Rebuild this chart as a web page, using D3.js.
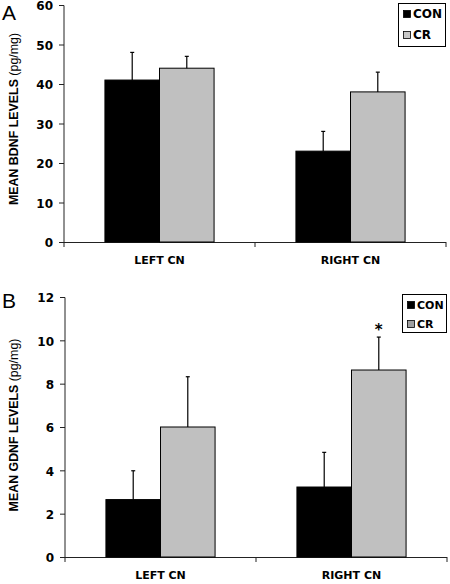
<!DOCTYPE html>
<html>
<head>
<meta charset="utf-8">
<script src="https://cdn.jsdelivr.net/npm/d3@7"></script>
<style>
  body { margin: 0; background: #fff; }
  svg { display: block; }
</style>
</head>
<body>
<script>
// ---- data ----
const categories = ["LEFT CN", "RIGHT CN"];
const seriesNames = ["CON", "CR"];

const bdnfCon = [41, 23];
const bdnfCr = [44, 38];
const bdnfConErr = [7, 5];
const bdnfCrErr = [3, 5];
const bdnfTicks = [0, 10, 20, 30, 40, 50, 60];

const gdnfCon = [2.65, 3.23];
const gdnfCr = [6.0, 8.63];
const gdnfConErr = [1.33, 1.6];
const gdnfCrErr = [2.32, 1.52];
const gdnfTicks = [0, 2, 4, 6, 8, 10, 12];
const gdnfStars = ["", "*"];

// ---- drawing ----
const W = 450, H = 584;
const svg = d3.select("body").append("svg").attr("width", W).attr("height", H);

const tickFont = "'DejaVu Sans', Verdana, sans-serif";
const labelFont = "'Liberation Sans', Arial, sans-serif";

function panel(opts) {
  const g = svg.append("g");
  const y = d3.scaleLinear().domain([0, d3.max(opts.ticks)]).range([opts.y0, opts.y1]);
  const x = d3.scaleBand().domain(categories).range([opts.x0, opts.x1]).padding(0);
  const xs = d3.scaleBand().domain(seriesNames).range([0, x.bandwidth()])
    .paddingInner(0).paddingOuter(0.75);

  const colors = { CON: "#000000", CR: "#c0c0c0" };
  const means = { CON: opts.con, CR: opts.cr };
  const errs = { CON: opts.conErr, CR: opts.crErr };

  // y axis
  const yAxis = d3.axisLeft(y).tickValues(opts.ticks).tickSize(5).tickPadding(6);
  const ya = g.append("g").attr("transform", `translate(${opts.x0},0)`).call(yAxis);
  ya.select(".domain").attr("stroke", "#222").attr("d", `M-5,${opts.y1 + 0.5}H0V${opts.y0 + 0.5}`);
  ya.selectAll(".tick line").attr("stroke", "#222");
  ya.selectAll(".tick text")
    .attr("font-family", tickFont).attr("font-weight", "bold").attr("font-size", 12)
    .attr("dy", "0.4em")
    .attr("fill", "#000");

  // x axis (ticks at band boundaries)
  const xa = g.append("g").attr("transform", `translate(0,${opts.y0})`);
  xa.append("line").attr("x1", opts.x0).attr("x2", opts.x1).attr("y1", 0.5).attr("y2", 0.5)
    .attr("stroke", "#222");
  const bounds = categories.map(c => x(c)).concat([x(categories[categories.length - 1]) + x.bandwidth()]);
  xa.selectAll("line.tk").data(bounds).join("line").attr("class", "tk")
    .attr("x1", d => d).attr("x2", d => d).attr("y1", 0).attr("y2", 5).attr("stroke", "#222");
  xa.selectAll("text.cat").data(categories).join("text").attr("class", "cat")
    .attr("x", d => x(d) + x.bandwidth() / 2).attr("y", 22)
    .attr("text-anchor", "middle")
    .attr("font-family", tickFont).attr("font-weight", "bold").attr("font-size", 11)
    .text(d => d);

  // bars
  const rows = [];
  categories.forEach((c, i) => seriesNames.forEach(s => rows.push({ c, s, v: means[s][i], e: errs[s][i], i })));
  g.selectAll("rect.bar").data(rows).join("rect").attr("class", "bar")
    .attr("x", d => x(d.c) + xs(d.s))
    .attr("width", xs.bandwidth())
    .attr("y", d => y(d.v))
    .attr("height", d => y(0) - y(d.v))
    .attr("fill", d => colors[d.s])
    .attr("stroke", "#000").attr("stroke-width", 1);

  // error bars (upward only)
  const eb = g.selectAll("g.err").data(rows).join("g").attr("class", "err");
  eb.append("line")
    .attr("x1", d => x(d.c) + xs(d.s) + xs.bandwidth() / 2)
    .attr("x2", d => x(d.c) + xs(d.s) + xs.bandwidth() / 2)
    .attr("y1", d => y(d.v)).attr("y2", d => y(d.v + d.e))
    .attr("stroke", "#000").attr("stroke-width", 1.2);
  eb.append("line")
    .attr("x1", d => x(d.c) + xs(d.s) + xs.bandwidth() / 2 - 2)
    .attr("x2", d => x(d.c) + xs(d.s) + xs.bandwidth() / 2 + 2)
    .attr("y1", d => y(d.v + d.e)).attr("y2", d => y(d.v + d.e))
    .attr("stroke", "#000").attr("stroke-width", 1.2);

  // stars
  if (opts.stars) {
    g.selectAll("text.star").data(rows.filter(d => d.s === "CR" && opts.stars[d.i]))
      .join("text").attr("class", "star")
      .attr("x", d => x(d.c) + xs(d.s) + xs.bandwidth() / 2)
      .attr("y", d => y(d.v + d.e) - 2)
      .attr("text-anchor", "middle")
      .attr("font-family", tickFont).attr("font-weight", "bold").attr("font-size", 15)
      .text(d => opts.stars[d.i]);
  }

  // y label
  const yl = g.append("text")
    .attr("transform", `translate(18,${opts.labelY}) rotate(-90)`)
    .attr("text-anchor", "middle")
    .attr("font-family", labelFont).attr("font-size", 12.4).attr("font-weight", "bold");
  yl.append("tspan").text(opts.ylabel + " ");
  yl.append("tspan").attr("font-weight", "normal").text("(pg/mg)");

  // panel letter
  g.append("text").attr("x", 2).attr("y", opts.letterY)
    .attr("font-family", labelFont).attr("font-size", 21).text(opts.letter);

  // legend
  const L = opts.legend;
  const lg = g.append("g");
  lg.append("rect").attr("x", L.x + 0.5).attr("y", L.y + 0.5).attr("width", L.w).attr("height", L.h)
    .attr("fill", "#fff").attr("stroke", "#000").attr("stroke-width", 1);
  seriesNames.forEach((s, k) => {
    const yy = L.y + L.first + k * L.gap;
    lg.append("rect").attr("x", L.x + 5.5).attr("y", yy - 7.5).attr("width", 7).attr("height", 7)
      .attr("fill", s === "CON" ? "#000" : L.crSwatch).attr("stroke", "#000").attr("stroke-width", 0.8);
    lg.append("text").attr("x", L.x + 15).attr("y", yy)
      .attr("font-family", tickFont).attr("font-weight", "bold").attr("font-size", L.fs)
      .text(s);
  });
}

panel({
  x0: 64, x1: 446, y0: 242, y1: 5,
  ticks: bdnfTicks, con: bdnfCon, cr: bdnfCr, conErr: bdnfConErr, crErr: bdnfCrErr,
  ylabel: "MEAN BDNF LEVELS", letter: "A", letterY: 20, labelY: 119,
  legend: { x: 398, y: 3, w: 47, h: 43, first: 15, gap: 21, fs: 12, crSwatch: "#c8c8c8" }
});

panel({
  x0: 65, x1: 447, y0: 557, y1: 297,
  ticks: gdnfTicks, con: gdnfCon, cr: gdnfCr, conErr: gdnfConErr, crErr: gdnfCrErr,
  stars: gdnfStars,
  ylabel: "MEAN GDNF LEVELS", letter: "B", letterY: 308, labelY: 425,
  legend: { x: 402, y: 294, w: 44, h: 38, first: 15, gap: 19, fs: 11, crSwatch: "#a0a0a0" }
});
</script>
</body>
</html>
